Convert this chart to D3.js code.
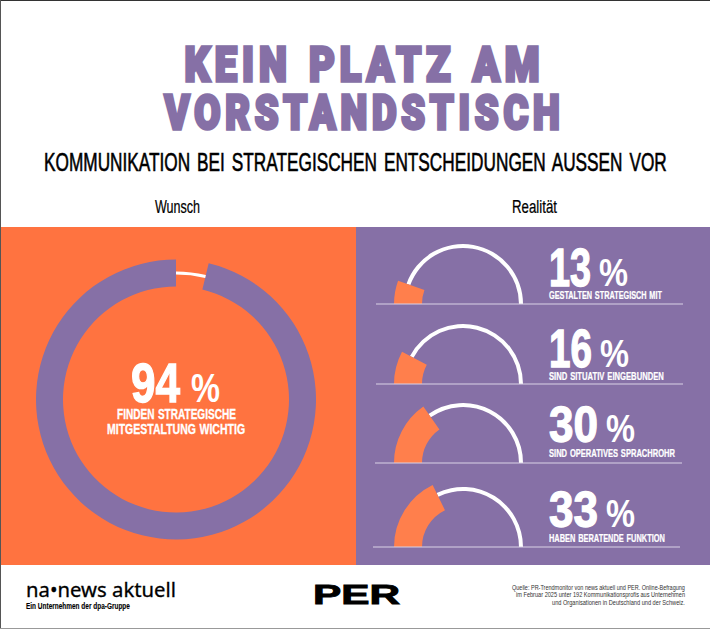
<!DOCTYPE html>
<html>
<head>
<meta charset="utf-8">
<script src="https://cdn.jsdelivr.net/npm/d3@7"></script>
<style>
  html, body { margin: 0; padding: 0; background: #fff; }
  svg { display: block; }
  text { font-family: "Liberation Sans Narrow", "Liberation Sans", sans-serif; }
</style>
</head>
<body>
<div id="chart"></div>
<script>
// Text and values.
const titleLines = ["KEIN PLATZ AM", "VORSTANDSTISCH"];
const subtitle = "KOMMUNIKATION BEI STRATEGISCHEN ENTSCHEIDUNGEN AUSSEN VOR";
const columnHeads = ["Wunsch", "Realität"];

const wishValue = 94;
const wishLines = ["FINDEN STRATEGISCHE", "MITGESTALTUNG WICHTIG"];

const realityValues = [13, 16, 30, 33];
const realityLabels = [
  "GESTALTEN STRATEGISCH MIT",
  "SIND SITUATIV EINGEBUNDEN",
  "SIND OPERATIVES SPRACHROHR",
  "HABEN BERATENDE FUNKTION"
];
// The drawn gauges do not quite follow the printed numbers, so the filled share is read off separately.
const realityDrawn = [11, 15.5, 30.5, 35.5];
const wishDrawn = 96.25;

const sourceLines = [
  "Quelle: PR-Trendmonitor von news aktuell und PER. Online-Befragung",
  "im Februar 2025 unter 192 Kommunikationsprofis aus Unternehmen",
  "und Organisationen in Deutschland und der Schweiz."
];

const ORANGE = "#ff7340";
const PURPLE = "#8670a6";
const GAUGE_ORANGE = "#ff7f4c";
const HEAVY = "Roboto, 'Liberation Sans', sans-serif";

const width = 710, height = 629;

const svg = d3.select("#chart").append("svg")
  .attr("width", width)
  .attr("height", height);

/**
 * Adds one line of text, scaled sideways to a given width and with a given cap height.
 */
function addText(str, x, baseline, capHeight, textWidth, opts) {
  opts = opts || {};
  const t = svg.append("text")
    .attr("font-size", capHeight / 0.72)
    .attr("font-weight", opts.weight || "bold")
    .attr("fill", opts.fill || "#000")
    .text(str);
  if (opts.family) t.style("font-family", opts.family);
  if (opts.spacing) t.style("letter-spacing", opts.spacing + "px");
  if (opts.wordSpacing) t.style("word-spacing", opts.wordSpacing + "px");
  if (opts.stroke) {
    t.attr("stroke", opts.fill || "#000")
      .attr("stroke-width", opts.stroke)
      .attr("stroke-linejoin", "miter")
      .attr("vector-effect", "non-scaling-stroke");
  }
  const natural = t.node().getComputedTextLength();
  t.attr("transform", "translate(" + x + "," + baseline + ") scale(" + (textWidth / natural) + ",1)");
  return t;
}

// Panels
svg.append("rect").attr("x", 0).attr("y", 227).attr("width", 356).attr("height", 338).attr("fill", ORANGE);
svg.append("rect").attr("x", 356).attr("y", 227).attr("width", 354).attr("height", 338).attr("fill", PURPLE);

// Thin frame around the picture
svg.append("line").attr("x1", 0).attr("x2", width).attr("y1", 0.5).attr("y2", 0.5).attr("stroke", "#333");
svg.append("line").attr("x1", 0.5).attr("x2", 0.5).attr("y1", 0).attr("y2", height).attr("stroke", "#555");
svg.append("line").attr("x1", 0).attr("x2", width).attr("y1", 628.5).attr("y2", 628.5).attr("stroke", "#999");

// Header
addText(titleLines[0], 184.5, 81, 34.5, 360, { fill: PURPLE, weight: 900, family: HEAVY, spacing: 6, wordSpacing: 3, stroke: 3 });
addText(titleLines[1], 164.5, 128.8, 34.5, 400, { fill: PURPLE, weight: 900, family: HEAVY, spacing: 6, stroke: 3 });
addText(subtitle, 44, 171, 18, 623, { weight: "normal", stroke: 0.5, wordSpacing: 3 });
addText(columnHeads[0], 155, 213, 13, 45, { weight: "normal", stroke: 0.2 });
addText(columnHeads[1], 512, 213, 13, 45, { weight: "normal", stroke: 0.2 });

// Big ring on the left
const ringAngle = d3.scaleLinear().domain([0, 100]).range([2 * Math.PI, 0]);
const ring = svg.append("g").attr("transform", "translate(176,399.5)");

ring.append("path")
  .attr("d", d3.arc().innerRadius(113).outerRadius(140)
    .startAngle(ringAngle(wishDrawn)).endAngle(ringAngle(0)))
  .attr("fill", PURPLE);

ring.append("path")
  .attr("d", d3.arc().innerRadius(125).outerRadius(128)
    .startAngle(0).endAngle(ringAngle(wishDrawn)))
  .attr("fill", "#fff");

addText(String(wishValue), 131, 402, 40, 49, { fill: "#fff", stroke: 1.2 });
addText("%", 191, 402, 29, 29, { fill: "#fff" });
addText(wishLines[0], 117, 419, 11, 119, { fill: "#fff", wordSpacing: 1, stroke: 0.3 });
addText(wishLines[1], 107, 434, 11, 138, { fill: "#fff", wordSpacing: 1, stroke: 0.3 });

// Half circle gauges on the right
const gaugeAngle = d3.scaleLinear().domain([0, 100]).range([-Math.PI / 2, Math.PI / 2]);
const rowY = d3.scaleOrdinal().domain(realityLabels).range([304, 384, 463, 547]);
const rowLine = d3.scaleOrdinal().domain(realityLabels).range([[376, 683], [376, 683], [375, 682], [373, 680]]);
const numWidth = d3.scaleOrdinal().domain(realityLabels).range([42, 43, 49, 49]);
const labelWidth = d3.scaleOrdinal().domain(realityLabels).range([113, 115, 126, 116]);
const textBase = d3.scaleOrdinal().domain(realityLabels).range([286, 367, 442, 527]);

const gaugeOuter = d3.arc().innerRadius(41).outerRadius(69);
const gaugeThin = d3.arc().innerRadius(56).outerRadius(60);

realityLabels.forEach(function(label, i) {
  const y = rowY(label);
  const g = svg.append("g").attr("transform", "translate(463," + y + ")");

  g.append("path")
    .attr("d", gaugeThin({ startAngle: gaugeAngle(realityDrawn[i]), endAngle: gaugeAngle(100) }))
    .attr("fill", "#fff");
  g.append("path")
    .attr("d", gaugeOuter({ startAngle: gaugeAngle(0), endAngle: gaugeAngle(realityDrawn[i]) }))
    .attr("fill", GAUGE_ORANGE);

  svg.append("line")
    .attr("x1", rowLine(label)[0]).attr("x2", rowLine(label)[1])
    .attr("y1", y).attr("y2", y)
    .attr("stroke", "#d9d1e6").attr("stroke-width", 1.2);

  const base = textBase(label);
  const nw = numWidth(label);
  addText(String(realityValues[i]), 549, base, i < 2 ? 39 : 36, nw, { fill: "#fff", stroke: 1.2 });
  addText("%", 549 + nw + 8, base, 28, 29, { fill: "#fff" });
  addText(label, 549, base + (i < 2 ? 13 : 15), 7.5, labelWidth(label), { fill: "#fff", wordSpacing: 1, stroke: 0.2 });
});

// Footer
addText("na\u2022news aktuell", 26, 597, 14, 150, { weight: "normal", family: "'Noto Sans', sans-serif", stroke: 0.3 });
addText("Ein Unternehmen der dpa-Gruppe", 26, 609, 6, 104, { stroke: 0.1 });
addText("PER", 313, 604, 20, 87, { family: "'Liberation Sans', sans-serif", stroke: 1.2 });

sourceLines.forEach(function(line, i) {
  const w = [173, 169, 133][i];
  addText(line, 685 - w, 589.5 + i * 7.7, 4.6, w, { weight: "normal", fill: "#333" });
});
</script>
</body>
</html>
